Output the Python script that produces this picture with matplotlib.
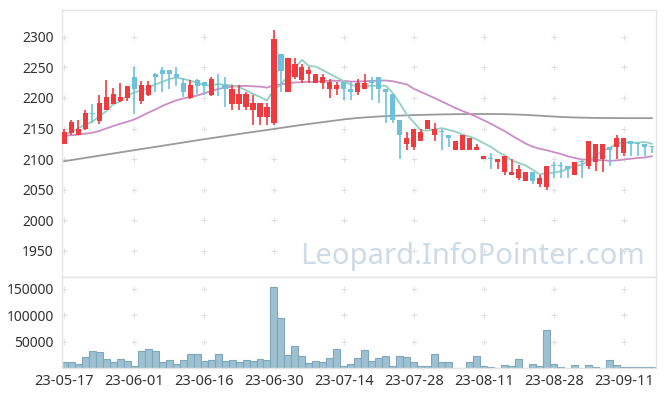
import numpy as np
import matplotlib.pyplot as plt

plt.rcParams['font.family'] = ['Noto Sans', 'DejaVu Sans']

# trading days (labels only every 10th bar are shown)
tick_labels = ['23-05-17', '23-06-01', '23-06-16', '23-06-30', '23-07-14',
               '23-07-28', '23-08-11', '23-08-28', '23-09-11']

opens = [2125, 2143, 2139, 2149, 2175, 2163, 2180, 2190, 2195, 2200,
         2235, 2195, 2205, 2240, 2245, 2245, 2240, 2225, 2200, 2230,
         2226, 2205, 2223, 2221, 2190, 2190, 2185, 2180, 2169, 2169,
         2159, 2272, 2210, 2234, 2229, 2239, 2225, 2225, 2215, 2215,
         2226, 2215, 2210, 2215, 2230, 2235, 2215, 2206, 2164, 2125,
         2119, 2130, 2150, 2140, 2145, 2140, 2115, 2115, 2115, 2115,
         2100, 2101, 2095, 2079, 2074, 2069, 2064, 2079, 2059, 2054,
         2090, 2090, 2089, 2074, 2096, 2089, 2095, 2100, 2120, 2120,
         2110, 2130, 2126, 2125, 2121]
highs = [2149, 2164, 2164, 2181, 2190, 2205, 2230, 2217, 2225, 2220,
         2251, 2227, 2228, 2241, 2251, 2246, 2250, 2233, 2229, 2231,
         2226, 2235, 2240, 2235, 2221, 2221, 2210, 2205, 2191, 2191,
         2311, 2272, 2266, 2266, 2255, 2250, 2240, 2240, 2231, 2226,
         2226, 2226, 2231, 2240, 2235, 2235, 2215, 2206, 2164, 2145,
         2150, 2150, 2164, 2159, 2150, 2140, 2130, 2140, 2135, 2125,
         2105, 2110, 2100, 2105, 2100, 2090, 2079, 2079, 2074, 2089,
         2095, 2095, 2089, 2095, 2100, 2130, 2125, 2125, 2120, 2140,
         2135, 2130, 2126, 2125, 2121]
lows = [2125, 2140, 2139, 2148, 2159, 2158, 2180, 2190, 2194, 2195,
        2174, 2190, 2204, 2210, 2209, 2215, 2219, 2201, 2199, 2206,
        2205, 2204, 2204, 2186, 2181, 2181, 2181, 2155, 2155, 2155,
        2155, 2210, 2210, 2231, 2225, 2225, 2225, 2215, 2200, 2205,
        2196, 2196, 2205, 2215, 2196, 2191, 2159, 2159, 2100, 2115,
        2115, 2130, 2150, 2130, 2115, 2120, 2115, 2115, 2115, 2115,
        2100, 2084, 2084, 2074, 2074, 2065, 2064, 2059, 2054, 2050,
        2069, 2069, 2069, 2074, 2069, 2084, 2080, 2079, 2089, 2100,
        2105, 2105, 2105, 2105, 2110]
closes = [2145, 2160, 2150, 2175, 2174, 2191, 2201, 2206, 2201, 2220,
          2215, 2221, 2221, 2234, 2239, 2239, 2234, 2210, 2221, 2220,
          2220, 2231, 2222, 2215, 2215, 2206, 2206, 2191, 2191, 2186,
          2296, 2244, 2266, 2255, 2251, 2245, 2240, 2235, 2226, 2221,
          2215, 2210, 2225, 2225, 2225, 2215, 2210, 2164, 2140, 2135,
          2150, 2145, 2164, 2150, 2144, 2135, 2130, 2140, 2135, 2120,
          2105, 2100, 2100, 2105, 2079, 2084, 2079, 2064, 2069, 2089,
          2089, 2089, 2084, 2095, 2095, 2130, 2125, 2125, 2115, 2135,
          2135, 2125, 2125, 2120, 2120]
volumes = [10700, 10700, 6900, 21400, 31500, 29600, 17600, 10700, 17600, 12600,
           4400, 32700, 36500, 31500, 10700, 15700, 6900, 15700, 25800, 25800,
           12600, 15700, 25800, 12600, 14500, 10700, 14500, 12600, 16400, 14500,
           154000, 95000, 25200, 40900, 23300, 8800, 12600, 10700, 19500, 36500,
           3100, 6900, 19500, 34600, 13800, 19500, 23300, 3100, 23300, 21400,
           12000, 3100, 4400, 27000, 12000, 12000, 0, 0, 12000, 23300,
           4400, 2500, 0, 6300, 4400, 17600, 0, 8200, 4400, 72300,
           8200, 2500, 0, 6300, 0, 6300, 2500, 0, 15700, 6300,
           2500, 2500, 2500, 2500, 1500]

ma5 = [2138.5, 2144.6, 2150.0, 2156.5, 2160.8, 2170.0, 2178.2, 2189.4, 2194.6, 2203.8,
       2208.6, 2212.6, 2215.6, 2222.2, 2226.0, 2230.8, 2233.4, 2231.2, 2228.6, 2224.8,
       2221.0, 2220.4, 2222.8, 2221.6, 2220.6, 2217.8, 2212.8, 2206.6, 2201.8, 2196.0,
       2214.0, 2221.6, 2236.6, 2249.4, 2262.4, 2252.2, 2251.4, 2245.2, 2239.4, 2233.4,
       2227.4, 2221.4, 2219.4, 2219.2, 2220.0, 2220.0, 2220.0, 2207.8, 2190.8, 2172.8,
       2159.8, 2146.8, 2146.8, 2148.8, 2150.6, 2147.6, 2144.6, 2139.8, 2136.8, 2132.0,
       2126.0, 2120.0, 2112.0, 2106.0, 2097.8, 2093.6, 2089.4, 2082.2, 2075.0, 2077.0,
       2078.0, 2080.0, 2084.0, 2089.2, 2090.4, 2098.6, 2105.8, 2114.0, 2118.0, 2126.0,
       2127.0, 2127.0, 2127.0, 2128.0, 2125.0]
ma20 = [2138.5, 2139.0, 2140.0, 2141.5, 2143.0, 2146.0, 2150.0, 2154.0, 2157.7, 2161.0,
        2164.8, 2170.0, 2175.8, 2181.0, 2186.7, 2191.5, 2196.0, 2199.0, 2201.5, 2203.9,
        2207.6, 2211.2, 2214.8, 2216.8, 2218.8, 2219.6, 2219.8, 2219.1, 2218.6, 2216.9,
        2220.9, 2222.1, 2224.3, 2225.4, 2226.0, 2226.3, 2226.6, 2227.8, 2228.1, 2228.1,
        2227.9, 2226.8, 2227.0, 2227.5, 2228.0, 2228.4, 2228.6, 2227.3, 2224.7, 2222.2,
        2214.9, 2209.9, 2204.8, 2199.6, 2194.2, 2188.7, 2183.2, 2178.5, 2173.9, 2168.9,
        2163.4, 2157.9, 2151.6, 2145.6, 2138.3, 2131.8, 2125.2, 2120.2, 2116.7, 2114.4,
        2111.3, 2108.5, 2104.5, 2101.8, 2099.3, 2099.1, 2098.8, 2098.1, 2097.1, 2097.8,
        2099.3, 2100.6, 2101.8, 2102.6, 2104.6]
ma120 = [2096.5, 2098.3, 2100.1, 2101.9, 2103.7, 2105.5, 2107.3, 2109.1, 2110.9, 2112.7,
         2114.5, 2116.3, 2118.1, 2119.9, 2121.7, 2123.5, 2125.3, 2127.1, 2128.9, 2130.7,
         2132.5, 2134.2, 2135.9, 2137.6, 2139.3, 2141.0, 2142.7, 2144.4, 2146.0, 2147.6,
         2149.3, 2151.0, 2152.7, 2154.4, 2156.0, 2157.5, 2159.0, 2160.5, 2162.0, 2163.5,
         2165.0, 2166.2, 2167.3, 2168.2, 2169.0, 2169.7, 2170.3, 2170.8, 2171.2, 2171.6,
         2172.0, 2172.3, 2172.6, 2172.9, 2173.1, 2173.3, 2173.5, 2173.6, 2173.7, 2173.8,
         2173.8, 2173.8, 2173.7, 2173.5, 2173.2, 2172.8, 2172.3, 2171.7, 2171.0, 2170.3,
         2169.6, 2169.0, 2168.5, 2168.1, 2167.8, 2167.6, 2167.4, 2167.3, 2167.2, 2167.1,
         2167.0, 2167.0, 2167.0, 2167.0, 2167.0]

price_ticks = [1950, 2000, 2050, 2100, 2150, 2200, 2250, 2300]
vol_ticks = [50000, 100000, 150000]

UP = '#ef3b3f'
DOWN = '#6ec1da'
GRID = '#e0e0e0'
FRAME = '#e4e4e4'
TXT = '#333333'

o = np.array(opens, float)
h = np.array(highs, float)
l = np.array(lows, float)
c = np.array(closes, float)
x = np.arange(len(c))
xt = x[::10][:len(tick_labels)]
cols = [UP if cc >= oo else DOWN for oo, cc in zip(o, c)]

W, H = 665, 396
fig = plt.figure(figsize=(W / 100, H / 100), dpi=100)
L, R = 62, 656
ax = fig.add_axes([L / W, 1 - 277 / H, (R - L) / W, (277 - 10) / H])
axv = fig.add_axes([L / W, 1 - 368 / H, (R - L) / W, (368 - 277) / H], sharex=ax)

# watermark behind everything in the price panel
ax.text(645 / W, 1 - 264 / H, 'Leopard.InfoPointer.com', transform=fig.transFigure,
        ha='right', va='baseline', fontsize=21, color='#ccdbe6', zorder=0)

# moving averages
ax.plot(x, ma120, color='#9a9a9a', lw=1.3, zorder=2)
ax.plot(x, ma20, color='#cc8cc6', lw=1.3, zorder=2)
ax.plot(x, ma5, color='#93d0c2', lw=1.3, zorder=2)

# candles
ax.vlines(x, l, h, colors=cols, lw=1.2, zorder=3)
body = np.maximum(np.abs(c - o), 1.2)
ax.bar(x, body, bottom=np.minimum(o, c), width=0.72, color=cols, zorder=4)

# volume
axv.bar(x, volumes, width=1.0, color='#9ec1d1', edgecolor='#7ea7bb', lw=0.8, zorder=2)

ax.set_xlim(-0.3, 84.6)
ax.set_ylim(1907, 2344)
axv.set_ylim(0, 172000)

# plus-shaped grid marks at tick crossings
gx, gy = np.meshgrid(xt, price_ticks)
ax.scatter(gx.ravel(), gy.ravel(), marker='+', s=16, color=GRID, lw=0.8, zorder=1)
gx, gy = np.meshgrid(xt, vol_ticks)
axv.scatter(gx.ravel(), gy.ravel(), marker='+', s=16, color=GRID, lw=0.8, zorder=1)

ax.set_yticks(price_ticks)
ax.set_yticklabels([str(t) for t in price_ticks])
axv.set_yticks(vol_ticks)
axv.set_yticklabels([str(t) for t in vol_ticks])
axv.set_xticks(xt)
axv.set_xticklabels(tick_labels)
ax.tick_params(axis='x', labelbottom=False, length=0)
for a in (ax, axv):
    a.tick_params(axis='y', length=0, pad=6, labelsize=10, labelcolor=TXT)
    for s in a.spines.values():
        s.set_color(FRAME)
        s.set_linewidth(1)
axv.tick_params(axis='x', length=0, pad=4, labelsize=10.5, labelcolor=TXT)

fig.savefig('out.png', dpi=100)
